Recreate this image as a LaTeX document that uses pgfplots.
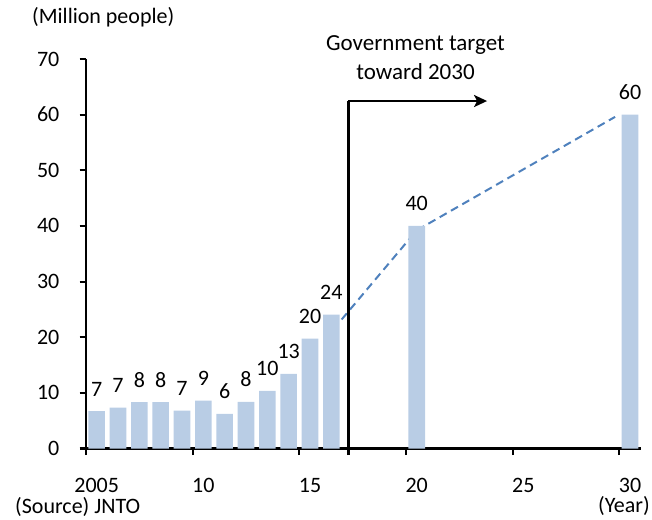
\documentclass[border=0pt]{standalone}
\usepackage{fontspec}
\setmainfont{Carlito}
\usepackage{pgfplots}
\pgfplotsset{compat=1.18}
\usetikzlibrary{arrows.meta}
\definecolor{barblue}{HTML}{B9CDE5}
\definecolor{lineblue}{HTML}{4F81BD}
\newcommand\cf{\fontsize{22bp}{26bp}\selectfont}
\newcommand\tf{\fontsize{23bp}{27bp}\selectfont}
\begin{document}
\cf
\begin{tikzpicture}[font=\cf]
\path[use as bounding box] (-86bp,-71.5bp) rectangle (566bp,448.5bp);
\begin{axis}[
  at={(0,0)}, anchor=south west,
  scale only axis,
  width=554.7bp, height=389.5bp,
  xmin=2005, xmax=2031,
  ymin=0, ymax=70,
  axis x line*=bottom, axis y line*=left,
  separate axis lines,
  x axis line style={line width=2.4bp, black, -},
  y axis line style={line width=2.4bp, black, -},
  xtick style={line width=2bp, black},
  ytick style={line width=2bp, black},
  major tick length=6.5bp,
  tick align=outside,
  xtick={2005,2010,2015,2020,2025,2030},
  xticklabels={2005,10,15,20,25,30},
  ytick={0,10,20,30,40,50,60,70},
  /pgf/number format/assume math mode=true,
  tick label style={font=\cf},
  xticklabel style={inner sep=0pt, anchor=north, xshift=10.67bp, yshift=-23bp},
  yticklabel style={inner sep=0pt, anchor=east, xshift=-20bp},
  clip=false,
]
\addplot[lineblue, line width=2bp, dash pattern=on 8bp off 5bp] coordinates {
  (2016.59,21.4) (2020.5,39.2) (2029.8,59.6)
};
\addplot[ybar, bar width=0.78, bar shift=0pt, fill=barblue, draw=none,
  point meta=explicit symbolic,
  nodes near coords,
  every node near coord/.append style={font=\cf, anchor=base, yshift=15bp, inner sep=0pt},
] table[meta=lab] {
x y lab
2005.5 6.73 7
2006.5 7.33 7
2007.5 8.35 8
2008.5 8.35 8
2009.5 6.79 7
2010.5 8.61 9
2011.5 6.22 6
2012.5 8.36 8
2013.5 10.36 10
2014.5 13.41 13
2015.5 19.74 20
2016.5 24.04 24
2020.5 40 40
2030.5 60 60
};
\draw[line width=2.2bp, black] ([yshift=-6.5bp]axis cs:2017.3,0) -- (axis cs:2017.3,62.45);
\draw[line width=2.2bp, black, -{Stealth[length=13bp,width=12bp,inset=3bp]}] (axis cs:2017.3,62.45) -- (axis cs:2023.8,62.45);
\end{axis}
\node[inner sep=0pt, anchor=west, font=\cf] at (-54bp,431bp) {(Million people)};
\node[inner sep=0pt, anchor=base, font=\tf] at (329.5bp,397.8bp) {Government target};
\node[inner sep=0pt, anchor=base, font=\tf] at (329.5bp,369.2bp) {toward 2030};
\node[inner sep=0pt, anchor=west, font=\cf] at (-71bp,-58.2bp) {(Source) JNTO};
\node[inner sep=0pt, anchor=east, font=\cf] at (564bp,-57bp) {(Year)};
\end{tikzpicture}
\end{document}
